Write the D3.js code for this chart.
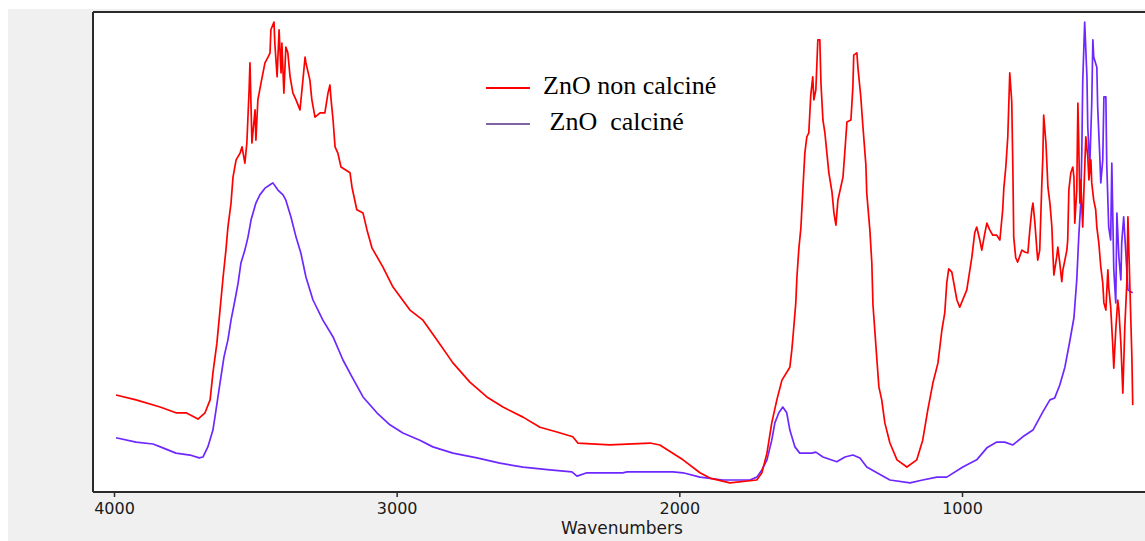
<!DOCTYPE html>
<html>
<head>
<meta charset="utf-8">
<script src="https://cdn.jsdelivr.net/npm/d3@7/dist/d3.min.js"></script>
<style>
  html, body { margin: 0; padding: 0; background: #ffffff; }
  svg { display: block; }
</style>
</head>
<body>
<svg id="chart" width="1145" height="541"></svg>
<script>
// ---- DATA (wavenumber cm-1, relative intensity 0-100) ----
const xTicks = [4000, 3000, 2000, 1000];
const xLabel = "Wavenumbers";
const seriesNames = ["ZnO non calciné", " ZnO  calciné"];

const redWave = [3993,3922,3837,3781,3745,3703,3678,3660,3650,3636,3625,3614,3604,3597,3586,3579,3568,3554,3547,3537,3530,3522,3519,3512,3501,3498,3491,3480,3466,3455,3448,3445,3434,3431,3423,3416,3409,3406,3399,3392,3385,3377,3367,3356,3342,3335,3324,3321,3307,3300,3289,3271,3254,3243,3236,3232,3225,3218,3208,3197,3165,3158,3141,3119,3105,3087,3049,3013,2953,2907,2858,2801,2741,2681,2624,2553,2493,2433,2377,2359,2246,2104,2069,1987,1927,1892,1821,1726,1708,1690,1673,1655,1637,1609,1602,1598,1588,1584,1577,1570,1563,1556,1549,1542,1535,1528,1524,1517,1510,1503,1499,1492,1485,1478,1471,1460,1453,1446,1439,1429,1421,1414,1407,1393,1386,1383,1372,1368,1358,1351,1340,1337,1326,1319,1315,1308,1301,1294,1284,1273,1255,1230,1195,1160,1139,1121,1103,1085,1071,1061,1054,1047,1036,1018,1008,983,965,955,948,937,930,919,912,902,891,877,866,856,852,845,838,831,824,820,817,810,803,788,778,767,760,753,749,742,735,732,725,718,714,711,703,696,689,682,679,675,665,661,654,647,643,636,629,626,622,615,608,604,601,594,590,587,583,580,573,569,562,555,551,544,541,534,527,523,516,509,502,498,491,484,481,474,467,463,456,449,445,438,431,424,417,413,406,399,396];
const redVal = [20.2,19.2,17.7,16.5,16.5,15.2,16.5,19.2,24.8,31.0,37.9,44.8,50.4,55.2,60.2,65.6,69.2,70.6,71.9,68.5,72.7,83.8,89.4,72.7,79.6,73.3,81.7,85.2,89.4,90.6,91.5,96.3,97.9,93.5,86.5,96.3,87.3,93.5,83.1,92.7,91.5,86.5,83.1,81.7,79.6,83.8,90.6,89.4,85.8,81.7,78.1,79.0,79.0,83.1,84.8,81.7,77.5,71.9,70.6,67.7,66.5,63.5,58.8,58.1,54.6,50.8,46.9,42.7,37.9,35.8,31.7,26.9,22.9,19.8,17.7,15.6,13.5,12.5,11.5,10.2,9.8,10.2,9.8,6.7,4.0,2.9,1.9,2.5,4.0,8.1,14.4,19.2,23.3,26.0,29.6,32.3,39.4,44.8,50.8,55.0,62.9,70.6,74.0,74.8,82.7,86.5,81.7,83.8,94.2,94.2,85.2,77.5,74.8,70.6,66.5,62.5,58.1,55.6,60.8,63.5,65.6,71.3,77.1,77.5,84.4,91.0,91.5,88.3,82.3,76.5,68.1,62.3,54.6,47.7,39.0,33.3,27.5,21.9,19.2,14.4,10.2,6.7,5.2,6.7,10.8,17.1,22.7,26.9,33.8,37.3,43.5,46.5,45.8,40.0,38.5,42.1,49.0,54.0,55.2,52.5,50.4,54.0,56.0,54.6,53.5,53.5,52.5,58.8,63.3,67.7,74.0,87.3,81.3,67.1,53.1,48.8,47.9,50.4,50.0,49.8,54.6,58.8,60.2,56.0,50.4,48.3,50.4,63.5,69.8,78.5,72.7,63.5,60.2,55.2,50.4,45.2,49.0,51.0,47.7,43.8,46.3,48.3,50.4,52.5,62.9,66.5,67.7,65.6,56.0,62.9,81.0,72.7,60.2,65.0,55.2,62.3,74.0,69.8,65.0,69.2,64.4,60.8,58.8,55.2,51.9,46.9,43.5,39.4,37.9,46.3,42.7,38.5,31.0,25.8,33.8,40.0,37.9,31.0,20.6,34.4,43.5,57.3,42.7,28.1,18.1];

const blueWave = [3993,3922,3862,3827,3781,3731,3699,3685,3668,3650,3639,3625,3611,3597,3586,3572,3561,3551,3537,3526,3515,3498,3484,3466,3448,3438,3420,3402,3392,3374,3356,3339,3321,3296,3261,3225,3190,3158,3119,3070,3024,2978,2918,2872,2801,2716,2635,2553,2458,2380,2362,2327,2200,2185,2023,1987,1927,1846,1750,1726,1708,1690,1673,1662,1648,1634,1620,1609,1591,1574,1531,1517,1492,1443,1414,1386,1361,1337,1301,1255,1184,1139,1089,1054,997,948,912,877,849,820,785,749,714,689,672,654,636,619,604,594,587,580,576,573,566,558,555,548,541,537,534,523,520,513,509,502,498,491,488,481,474,470,463,456,452,445,438,435,428,421,413,403,396];
const blueVal = [11.3,10.4,10.0,9.2,8.1,7.7,7.1,7.3,9.4,12.9,17.1,22.7,28.1,31.7,35.8,40.0,43.5,47.7,50.4,53.1,56.7,60.2,61.9,63.3,64.0,64.4,62.9,61.9,60.8,57.3,53.1,49.8,44.8,40.0,35.8,32.3,27.5,24.0,19.8,16.5,14.0,12.3,10.8,9.4,8.1,7.1,6.0,5.2,4.6,4.2,3.3,4.0,4.0,4.2,4.2,4.0,3.1,2.5,2.5,3.1,4.6,6.7,10.8,14.4,16.5,17.7,16.5,12.9,9.4,8.1,8.1,8.3,7.3,6.3,7.3,7.7,7.1,5.2,4.0,2.5,1.9,2.5,3.1,3.1,5.2,6.7,9.2,10.4,10.4,9.8,11.5,12.9,16.7,19.2,19.6,22.3,26.0,31.3,36.3,44.2,53.1,60.2,71.3,85.2,97.9,86.5,76.0,67.7,81.0,94.2,90.6,88.5,80.2,70.6,64.4,69.2,82.3,82.3,68.5,55.2,52.5,68.5,46.3,39.4,58.1,49.0,44.2,51.9,57.3,50.4,42.1,41.7,41.5];

// ---- LAYOUT ----
const W = 1145, H = 541;
const mLeft = 93, mTop = 12, mBottom = 492;
const svg = d3.select("#chart");

svg.append("rect").attr("x", 8).attr("y", 9).attr("width", W - 8).attr("height", H - 9).attr("fill", "#f0f0f0");
svg.append("rect").attr("x", mLeft).attr("y", mTop).attr("width", W - mLeft + 5).attr("height", mBottom - mTop).attr("fill", "#ffffff");

const x = d3.scaleLinear().domain([4000, 1000]).range([114, 962]);
const y = d3.scaleLinear().domain([0, 100]).range([mBottom, mTop]);

svg.append("defs").append("clipPath").attr("id", "clip")
  .append("rect").attr("x", mLeft).attr("y", mTop).attr("width", W - mLeft).attr("height", mBottom - mTop);

const line = d3.line().x(d => x(d[0])).y(d => y(d[1]));
const redData = redWave.map((w, i) => [w, redVal[i]]);
const blueData = blueWave.map((w, i) => [w, blueVal[i]]);

const g = svg.append("g").attr("clip-path", "url(#clip)");
g.append("path").datum(blueData).attr("d", line).attr("fill", "none")
  .attr("stroke", "#6e28ff").attr("stroke-width", 1.7).attr("stroke-linejoin", "round");
g.append("path").datum(redData).attr("d", line).attr("fill", "none")
  .attr("stroke", "#ff0000").attr("stroke-width", 1.7).attr("stroke-linejoin", "round");

svg.append("line").attr("x1", mLeft).attr("x2", W).attr("y1", mTop).attr("y2", mTop)
  .attr("stroke", "#2a2a2a").attr("stroke-width", 2);
svg.append("line").attr("x1", mLeft).attr("x2", mLeft).attr("y1", mTop).attr("y2", mBottom)
  .attr("stroke", "#2a2a2a").attr("stroke-width", 2);

const xAxis = d3.axisBottom(x).tickValues(xTicks).tickSize(5).tickSizeOuter(0).tickFormat(d3.format("d"));
const ax = svg.append("g").attr("transform", `translate(0,${mBottom})`).call(xAxis);
ax.select(".domain").remove();
svg.append("line").attr("x1", mLeft).attr("x2", W).attr("y1", mBottom).attr("y2", mBottom)
  .attr("stroke", "#2a2a2a").attr("stroke-width", 2);
ax.selectAll(".tick line").attr("stroke", "#2a2a2a").attr("stroke-width", 1.5);
ax.selectAll(".tick text").attr("font-family", "DejaVu Sans, sans-serif").attr("font-size", 16)
  .attr("fill", "#1a1a1a").attr("dy", "0.85em");

svg.append("text").attr("x", 622).attr("y", 534).attr("text-anchor", "middle")
  .attr("font-family", "DejaVu Sans, sans-serif").attr("font-size", 17).attr("fill", "#1a1a1a")
  .text(xLabel);

const legend = svg.append("g");
const legColors = ["#ff0000", "#8064a2"];
const legY = [88, 124];
seriesNames.forEach((name, i) => {
  legend.append("line").attr("x1", 486).attr("x2", 530).attr("y1", legY[i]).attr("y2", legY[i])
    .attr("stroke", legColors[i]).attr("stroke-width", 2);
  legend.append("text").attr("x", 543).attr("y", legY[i] + 6)
    .attr("font-family", "Liberation Serif, Times New Roman, serif").attr("font-size", 26)
    .attr("fill", "#000").style("white-space", "pre").text(name);
});
</script>
</body>
</html>
